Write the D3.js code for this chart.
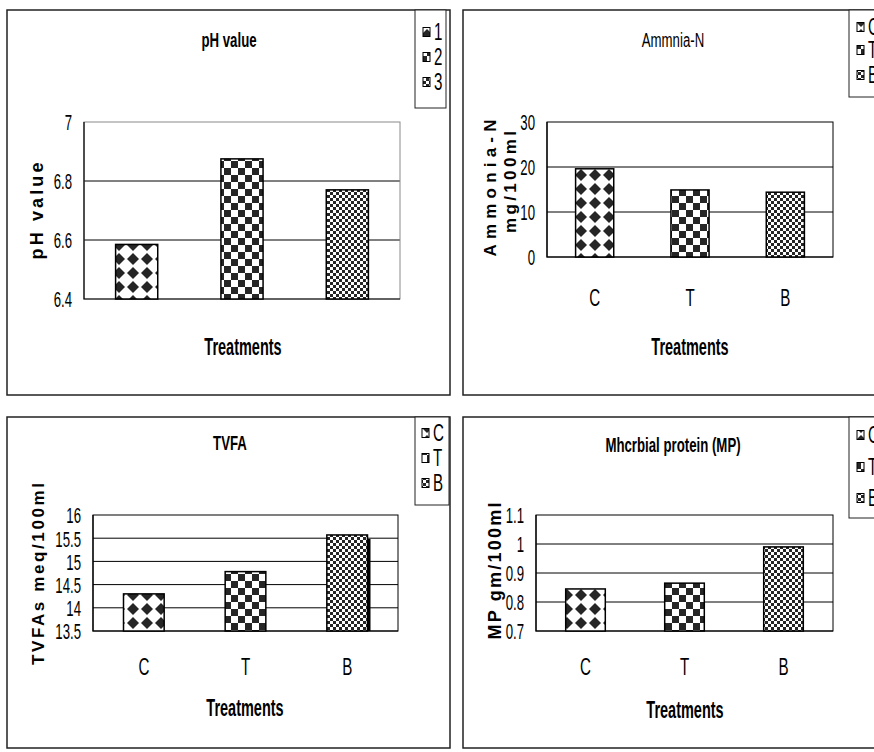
<!DOCTYPE html>
<html>
<head>
<meta charset="utf-8">
<script src="https://cdn.jsdelivr.net/npm/d3@7"></script>
<style>
  body { margin: 0; background: #fff; }
  svg { display: block; }
  text { font-family: "Liberation Sans", Arial, sans-serif; fill: #000; }
</style>
</head>
<body>
<script>
// data
var categories = ["C", "T", "B"];
var phLegend = ["1", "2", "3"];
var ctbLegend = ["C", "T", "B"];

var phValues = [6.585, 6.875, 6.77];
var phTicks = [6.4, 6.6, 6.8, 7];

var ammoniaValues = [19.6, 14.9, 14.4];
var ammoniaTicks = [0, 10, 20, 30];

var tvfaValues = [14.3, 14.78, 15.57];
var tvfaTicks = [13.5, 14, 14.5, 15, 15.5, 16];

var mpValues = [0.845, 0.865, 0.99];
var mpTicks = [0.7, 0.8, 0.9, 1, 1.1];

var SX = 0.63;   // narrow look of the original lettering
var TSX = 0.6;   // tick labels
var dark = "#262626";
var fills = ["url(#diamonds)", "url(#checker)", "url(#fine)"];

var svg = d3.select("body").append("svg")
    .attr("width", 874)
    .attr("height", 752);

// hatch patterns
var defs = svg.append("defs");
var p1 = defs.append("pattern").attr("id", "diamonds").attr("patternUnits", "userSpaceOnUse")
    .attr("width", 14).attr("height", 14);
p1.append("rect").attr("width", 14).attr("height", 14).attr("fill", "#fff");
p1.append("polygon").attr("points", "7,1 13,7 7,13 1,7").attr("fill", dark);

var p2 = defs.append("pattern").attr("id", "checker").attr("patternUnits", "userSpaceOnUse")
    .attr("width", 14).attr("height", 14);
p2.append("rect").attr("width", 14).attr("height", 14).attr("fill", "#fff");
p2.append("rect").attr("width", 7).attr("height", 7).attr("fill", dark);
p2.append("rect").attr("x", 7).attr("y", 7).attr("width", 7).attr("height", 7).attr("fill", dark);

var p3 = defs.append("pattern").attr("id", "fine").attr("patternUnits", "userSpaceOnUse")
    .attr("width", 6).attr("height", 6);
p3.append("rect").attr("width", 6).attr("height", 6).attr("fill", "#fff");
p3.append("rect").attr("width", 3).attr("height", 3).attr("fill", dark);
p3.append("rect").attr("x", 3).attr("y", 3).attr("width", 3).attr("height", 3).attr("fill", dark);

//horizontal text, squeezed sideways
function hText(g, x, y, s, size, bold, anchor) {
  return g.append("text")
      .attr("transform", "translate(" + x + "," + y + ") scale(" + SX + ",1)")
      .attr("text-anchor", anchor || "middle")
      .attr("dy", "0.35em")
      .style("font-size", size + "px")
      .style("font-weight", bold ? "bold" : "normal")
      .text(s);
}

//rotated axis title
function vText(g, x, y, s, size, len) {
  return g.append("text")
      .attr("transform", "translate(" + x + "," + y + ") rotate(-90)")
      .attr("text-anchor", "middle")
      .attr("textLength", len)
      .attr("lengthAdjust", "spacing")
      .style("font-size", size + "px")
      .style("font-weight", "bold")
      .text(s);
}

function drawChart(o) {
  var g = svg.append("g");

  // outer frame
  g.append("rect")
      .attr("x", o.box[0]).attr("y", o.box[1])
      .attr("width", o.box[2] - o.box[0]).attr("height", o.box[3] - o.box[1])
      .attr("fill", "#fff").attr("stroke", "#222").attr("stroke-width", 1.5);

  var x = d3.scaleBand().domain(categories)
      .range([o.left, o.right]).paddingInner(0.6).paddingOuter(0.3);
  var y = d3.scaleLinear().domain([o.ticks[0], o.ticks[o.ticks.length - 1]])
      .range([o.bottom, o.top]);

  // gridlines
  g.selectAll(".grid").data(o.ticks.slice(1, -1)).enter()
      .append("line")
      .attr("x1", o.left).attr("x2", o.right)
      .attr("y1", function(d) { return y(d); }).attr("y2", function(d) { return y(d); })
      .attr("stroke", "#000").attr("stroke-width", 1);

  // plot frame
  g.append("rect")
      .attr("x", o.left).attr("y", o.top)
      .attr("width", o.right - o.left).attr("height", o.bottom - o.top)
      .attr("fill", "none").attr("stroke", o.frame).attr("stroke-width", 1);
  g.append("path")
      .attr("d", "M" + o.left + "," + o.top + "V" + o.bottom + "H" + o.right)
      .attr("fill", "none").attr("stroke", "#000").attr("stroke-width", 1.2);

  // shadow strip on the last bar (only in TVFA)
  if (o.shadow) {
    var last = categories[categories.length - 1];
    g.append("rect")
        .attr("x", x(last) + x.bandwidth())
        .attr("y", y(o.values[o.values.length - 1]) + 4)
        .attr("width", 3)
        .attr("height", o.bottom - y(o.values[o.values.length - 1]) - 4)
        .attr("fill", "#000");
  }

  // bars
  g.selectAll(".bar").data(o.values).enter()
      .append("rect")
      .attr("x", function(d, i) { return x(categories[i]); })
      .attr("y", function(d) { return y(d); })
      .attr("width", x.bandwidth())
      .attr("height", function(d) { return o.bottom - y(d); })
      .attr("fill", function(d, i) { return fills[i]; })
      .attr("stroke", "#000").attr("stroke-width", 1.5);

  // y axis
  var ax = g.append("g")
      .attr("transform", "translate(" + o.left + ",0)")
      .call(d3.axisLeft(y).tickValues(o.ticks).tickSize(0).tickFormat(d3.format("~g")));
  ax.select(".domain").remove();
  ax.selectAll("text")
      .attr("x", -12 / TSX)
      .attr("dy", "0.36em")
      .attr("transform", "scale(" + TSX + ",1)")
      .style("font-size", "22px");

  // category labels
  if (o.catY) {
    categories.forEach(function(c) {
      hText(g, x(c) + x.bandwidth() / 2, o.catY, c, 24, false);
    });
  }

  hText(g, o.treat[0], o.treat[1], "Treatments", 23, true);
  hText(g, o.title[0], o.title[1], o.titleText, 21, o.titleBold);

  o.ylab.forEach(function(l) {
    vText(g, l.x, l.y, l.text, l.size, l.len);
  });

  // legend
  var lg = o.legend;
  g.append("rect")
      .attr("x", lg.box[0]).attr("y", lg.box[1])
      .attr("width", lg.box[2] - lg.box[0]).attr("height", lg.box[3] - lg.box[1])
      .attr("fill", "#fff").attr("stroke", "#222").attr("stroke-width", 1);
  lg.labels.forEach(function(s, i) {
    g.append("rect")
        .attr("x", lg.mx).attr("y", lg.ys[i] - 4.5)
        .attr("width", 7).attr("height", 9)
        .attr("fill", fills[i]).attr("stroke", "#000").attr("stroke-width", 1);
    hText(g, lg.mx + 11, lg.ys[i], s, 24, false, "start");
  });
}

drawChart({
  box: [7, 10, 450, 395],
  left: 84, right: 400, top: 122, bottom: 299,
  values: phValues, ticks: phTicks, frame: "#8a8a8a",
  catY: null,
  treat: [243, 347],
  title: [229, 40], titleText: "pH value", titleBold: true,
  ylab: [{ x: 43, y: 211, text: "pH value", size: 18, len: 97 }],
  legend: { box: [415, 10, 446, 108], mx: 423, ys: [32, 57, 82], labels: phLegend }
});

drawChart({
  box: [463, 10, 890, 395],
  left: 547, right: 833, top: 122, bottom: 257,
  values: ammoniaValues, ticks: ammoniaTicks, frame: "#000",
  catY: 298,
  treat: [690, 347],
  title: [673, 40], titleText: "Ammnia-N", titleBold: false,
  ylab: [{ x: 496, y: 188, text: "Ammonia-N", size: 17, len: 137 },
         { x: 516, y: 182, text: "mg/100ml", size: 17, len: 102 }],
  legend: { box: [849, 10, 890, 97], mx: 857, ys: [27, 50, 75], labels: ctbLegend }
});

drawChart({
  box: [7, 417, 450, 748],
  left: 93, right: 398, top: 515, bottom: 631,
  values: tvfaValues, ticks: tvfaTicks, frame: "#000", shadow: true,
  catY: 667,
  treat: [245, 708],
  title: [230, 443], titleText: "TVFA", titleBold: true,
  ylab: [{ x: 44, y: 574, text: "TVFAs meq/100ml", size: 17, len: 182 }],
  legend: { box: [415, 417, 449, 505], mx: 422, ys: [433, 458, 483], labels: ctbLegend }
});

drawChart({
  box: [463, 417, 890, 748],
  left: 536, right: 833, top: 515, bottom: 631,
  values: mpValues, ticks: mpTicks, frame: "#000",
  catY: 667,
  treat: [685, 710],
  title: [673, 445], titleText: "Mhcrbial protein (MP)", titleBold: true,
  ylab: [{ x: 501, y: 571, text: "MP gm/100ml", size: 18, len: 137 }],
  legend: { box: [849, 417, 890, 518], mx: 857, ys: [435, 467, 498], labels: ctbLegend }
});
</script>
</body>
</html>
